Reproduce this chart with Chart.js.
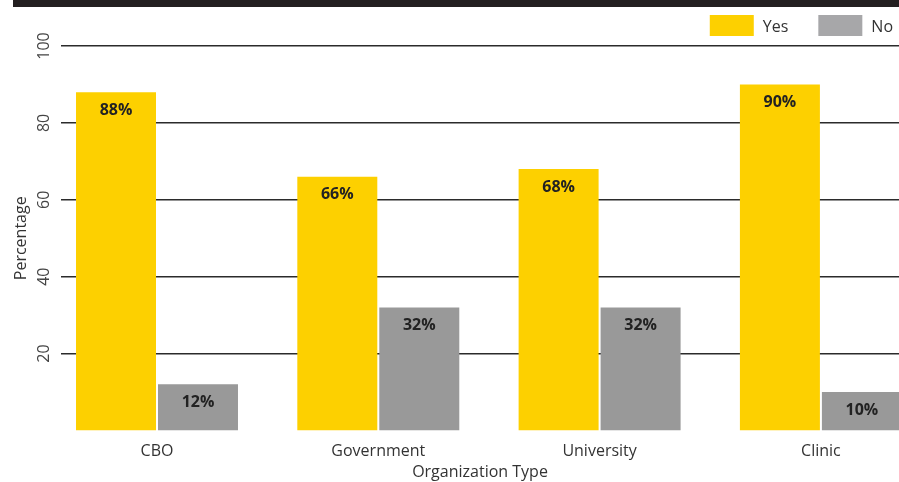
<!DOCTYPE html>
<html>
<head>
<meta charset="utf-8">
<script src="https://cdn.jsdelivr.net/npm/chart.js@4"></script>
<style>
  html, body { margin: 0; padding: 0; background: #fff; overflow: hidden; }
  #wrap { position: relative; width: 899px; height: 482px; }
  #banner { position: absolute; left: 13px; top: 0; width: 886px; height: 7px; background: #231f20; }
</style>
</head>
<body>
<div id="wrap">
  <canvas id="grafico" width="899" height="482"></canvas>
  <div id="banner"></div>
</div>
<script>
const categorias = ['CBO', 'Government', 'University', 'Clinic'];
const valoresSim = [88, 66, 68, 90];
const valoresNao = [12, 32, 32, 10];
const ticksY = [20, 40, 60, 80, 100];

const amarelo = '#FDD000';
const cinza = '#999999';
const cinzaLegenda = '#A7A7A9';
const fonte = "'Open Sans', 'Noto Sans', sans-serif";

// bar labels inside the top of each bar
const rotulos = {
    id: 'rotulos',
    afterDatasetsDraw(chart) {
        const ctx = chart.ctx;
        ctx.save();
        ctx.fillStyle = '#222222';
        ctx.font = "bold 16px " + fonte;
        ctx.textAlign = 'center';
        ctx.textBaseline = 'middle';
        chart.data.datasets.forEach((ds, i) => {
            chart.getDatasetMeta(i).data.forEach((bar, j) => {
                ctx.fillText(ds.data[j].y + '%', bar.x, bar.y + 18);
            });
        });
        ctx.restore();
    }
};

// legend drawn right-aligned at top, wide gap between items
const legenda = {
    id: 'legenda',
    afterDraw(chart) {
        const ctx = chart.ctx;
        ctx.save();
        ctx.font = "16px " + fonte;
        ctx.textBaseline = 'middle';
        let x = chart.width - 6;
        const ds = chart.data.datasets.slice().reverse();
        ds.forEach((d) => {
            const w = ctx.measureText(d.label).width;
            x -= w;
            ctx.fillStyle = '#333333';
            ctx.fillText(d.label, x, 27);
            x -= 9 + 44;
            ctx.fillStyle = d.legendColor;
            ctx.fillRect(x, 15, 44, 21);
            x -= 30;
        });
        ctx.restore();
    }
};

function criarGrafico() {
    const ctx = document.getElementById('grafico');
    return new Chart(ctx, {
        type: 'bar',
        data: {
            datasets: [{
                label: 'Yes',
                data: valoresSim.map((v, i) => ({x: i, y: v})),
                backgroundColor: amarelo,
                legendColor: amarelo
            }, {
                label: 'No',
                data: valoresNao.map((v, i) => ({x: i, y: v})),
                backgroundColor: cinza,
                legendColor: cinzaLegenda
            }]
        },
        options: {
            responsive: false,
            animation: false,
            categoryPercentage: 0.741,
            barPercentage: 0.9756,
            layout: { padding: { top: 46, right: 0, left: 0, bottom: 0 } },
            scales: {
                x: {
                    type: 'linear',
                    offset: false,
                    min: -0.4338,
                    max: 3.3529,
                    afterFit: (s) => { s.height = 51.5; },
                    border: { display: false },
                    grid: { display: false },
                    ticks: {
                        stepSize: 1,
                        includeBounds: false,
                        color: '#333333',
                        padding: 3,
                        font: { size: 16, family: fonte },
                        callback: (v) => categorias[v] ?? ''
                    },
                    title: {
                        display: true,
                        text: 'Organization Type',
                        color: '#333333',
                        padding: { top: 0, bottom: 0 },
                        font: { size: 16, family: fonte }
                    }
                },
                y: {
                    min: 0,
                    max: 100,
                    afterBuildTicks: (s) => { s.ticks = ticksY.map(v => ({value: v})); },
                    afterFit: (s) => { s.width = 61; s.paddingTop = 0; s.paddingBottom = 0; },
                    border: { display: false },
                    grid: { color: '#2b2b2b', lineWidth: 1.6, drawTicks: false },
                    ticks: {
                        minRotation: 90,
                        maxRotation: 90,
                        crossAlign: 'center',
                        color: '#444444',
                        padding: 3,
                        font: { size: 16, family: fonte }
                    },
                    title: {
                        display: true,
                        text: 'Percentage',
                        color: '#333333',
                        padding: { top: 12, bottom: 0 },
                        font: { size: 16, family: fonte }
                    }
                }
            },
            plugins: {
                legend: { display: false },
                tooltip: { enabled: false }
            }
        },
        plugins: [rotulos, legenda]
    });
}

criarGrafico();
</script>
</body>
</html>
